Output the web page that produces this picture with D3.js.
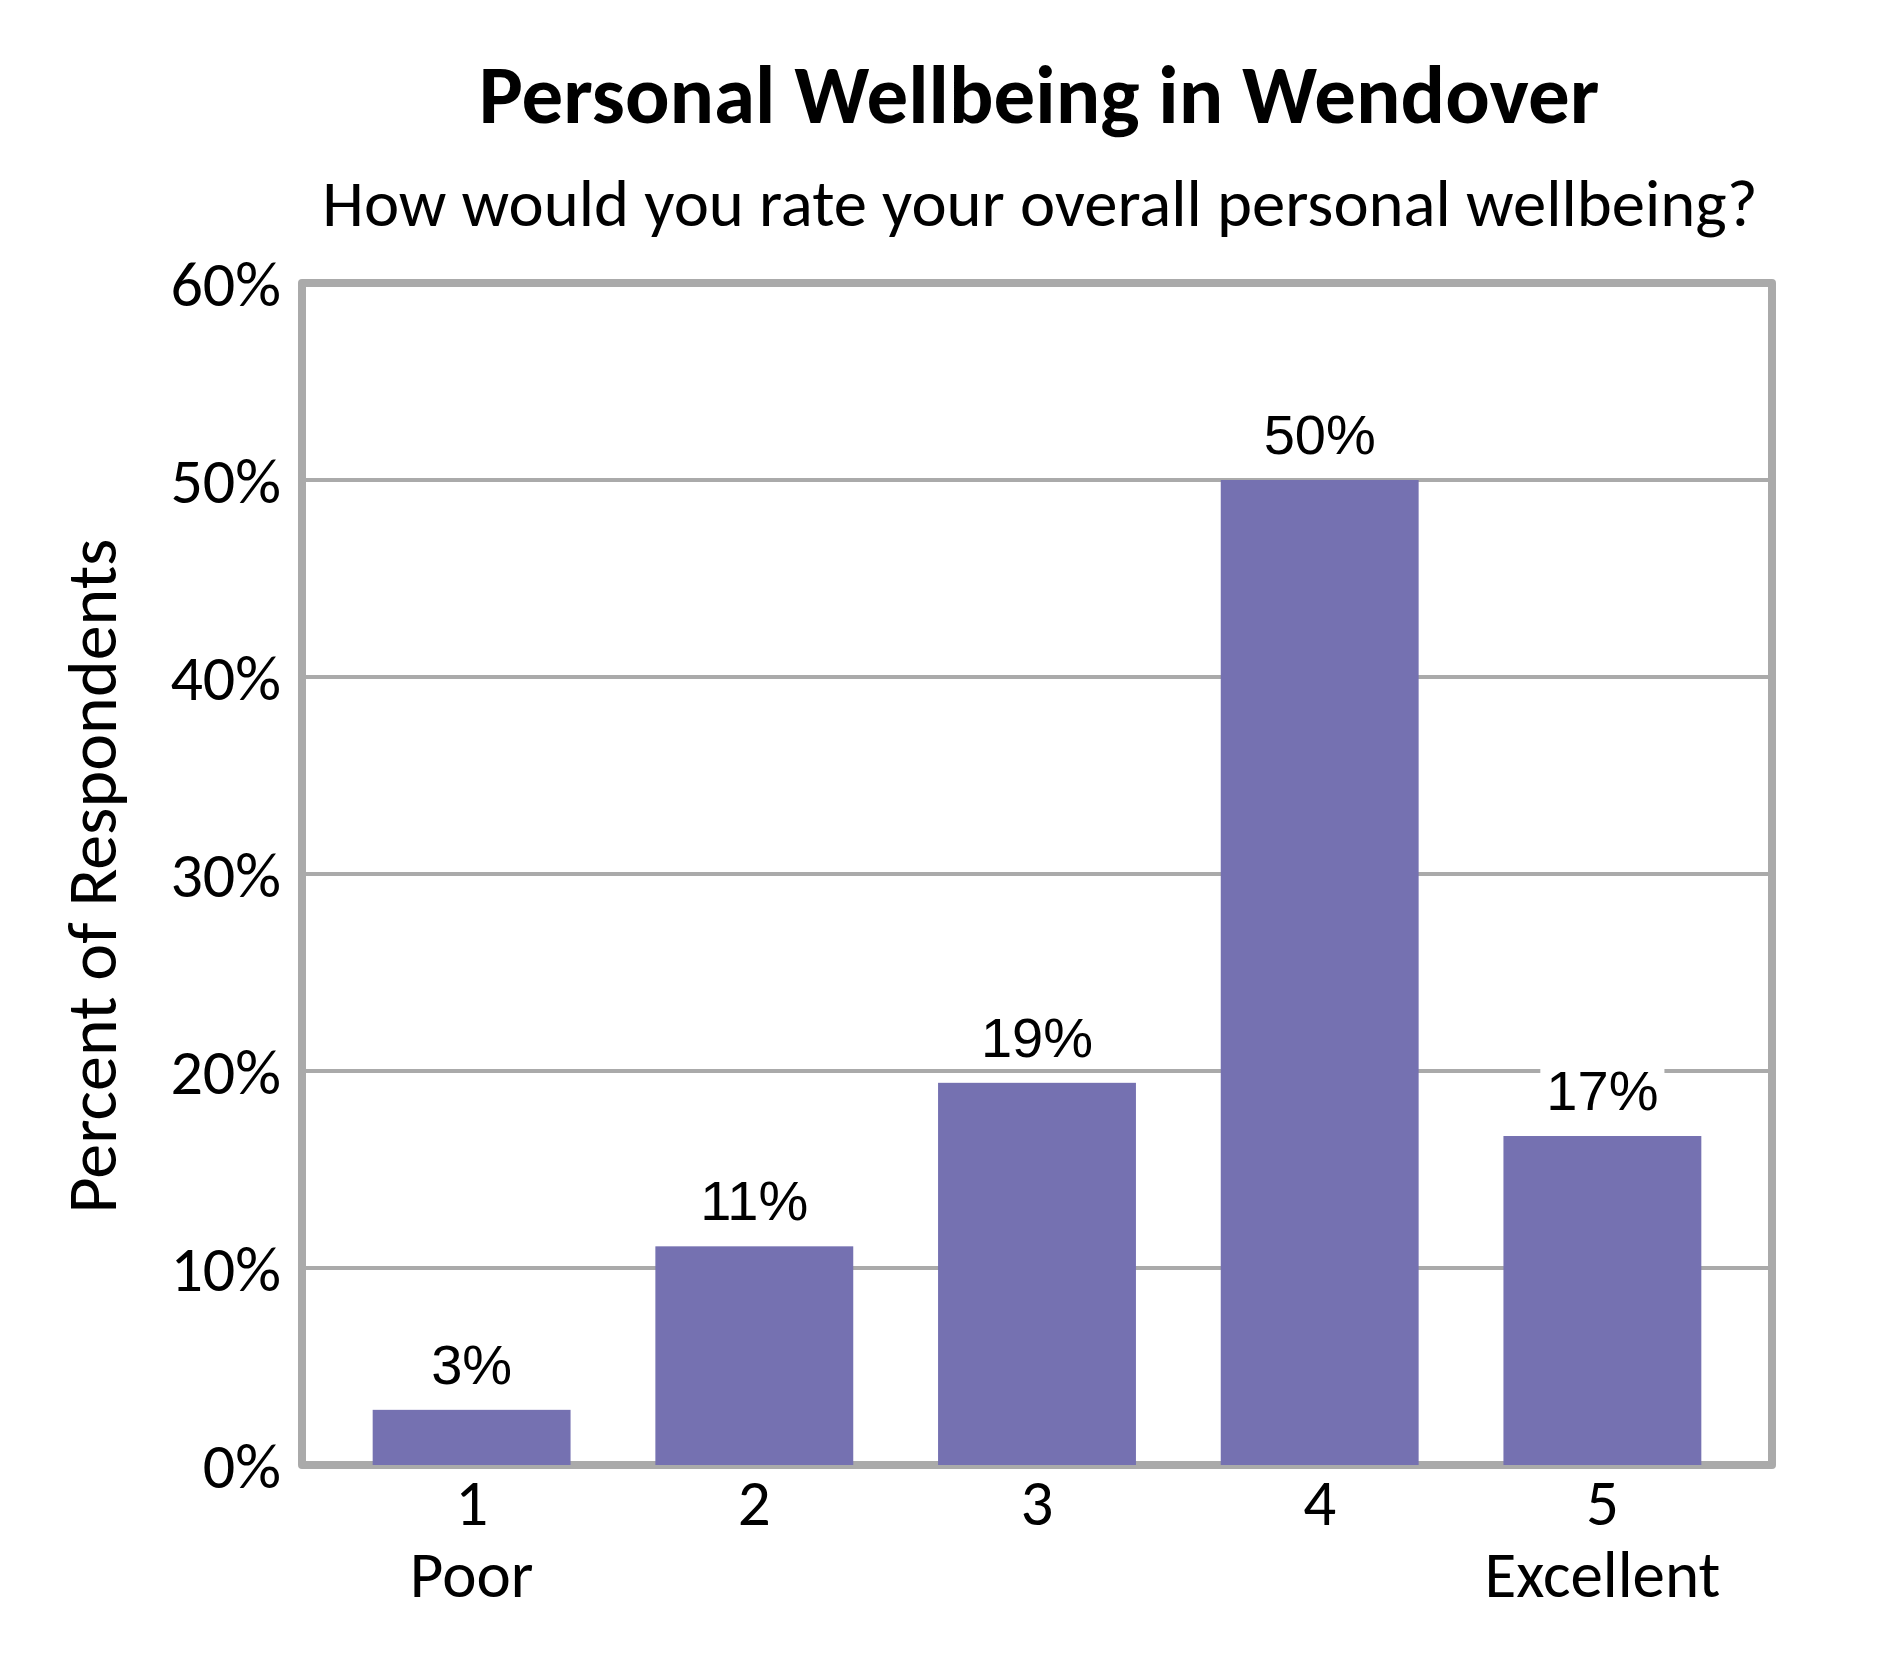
<!DOCTYPE html>
<html>
<head>
<meta charset="utf-8">
<script src="https://cdn.jsdelivr.net/npm/d3@7"></script>
<style>
  html, body { margin: 0; padding: 0; background: #fff; }
  svg { display: block; }
</style>
</head>
<body>
<svg id="chart"></svg>
<script>
const width = 1890;
const height = 1680;

// chart data
const categories = ["1", "2", "3", "4", "5"];
const subLabels = ["Poor", "", "", "", "Excellent"];
const values = [2.8, 11.1, 19.4, 50.0, 16.7];
const valueLabels = ["3%", "11%", "19%", "50%", "17%"];
const yTicks = [0, 10, 20, 30, 40, 50, 60];

const calibri = "Carlito, Calibri, Lato, sans-serif";
const arial = "Arial, 'Liberation Sans', sans-serif";
const gray = "#aaaaaa";
const barColor = "#7571b1";

const svg = d3.select("#chart")
    .attr("width", width)
    .attr("height", height);

const plot = { left: 302, right: 1772, top: 283, bottom: 1465 };

const x = d3.scaleBand()
    .domain(categories)
    .range([plot.left, plot.right])
    .paddingInner(0.3)
    .paddingOuter(0.25);

const y = d3.scaleLinear()
    .domain([0, 60])
    .range([plot.bottom, plot.top]);

// titles
svg.append("text")
    .attr("x", 1039)
    .attr("y", 123)
    .attr("text-anchor", "middle")
    .attr("font-family", calibri)
    .attr("font-weight", "bold")
    .attr("font-size", 83)
    .text("Personal Wellbeing in Wendover");

svg.append("text")
    .attr("x", 1040)
    .attr("y", 226)
    .attr("text-anchor", "middle")
    .attr("font-family", calibri)
    .attr("font-size", 66.7)
    .text("How would you rate your overall personal wellbeing?");

// gridlines
svg.append("g")
    .selectAll("line")
    .data(yTicks.slice(1, -1))
    .enter()
    .append("line")
    .attr("x1", plot.left)
    .attr("x2", plot.right)
    .attr("y1", d => y(d))
    .attr("y2", d => y(d))
    .attr("stroke", gray)
    .attr("stroke-width", 4);

// frame
svg.append("rect")
    .attr("x", plot.left)
    .attr("y", plot.top)
    .attr("width", plot.right - plot.left)
    .attr("height", plot.bottom - plot.top)
    .attr("fill", "none")
    .attr("stroke", gray)
    .attr("stroke-width", 8)
    .attr("stroke-linejoin", "round");

// bars
svg.append("g")
    .selectAll("rect")
    .data(values)
    .enter()
    .append("rect")
    .attr("x", (d, i) => x(categories[i]))
    .attr("y", d => y(d))
    .attr("width", x.bandwidth())
    .attr("height", d => y(0) - y(d))
    .attr("fill", barColor);

// data labels with white boxes
const labels = svg.append("g")
    .selectAll("g")
    .data(values)
    .enter()
    .append("g")
    .attr("transform", (d, i) =>
        `translate(${x(categories[i]) + x.bandwidth() / 2},${y(d) - 26})`);

labels.append("rect")
    .attr("fill", "#fff");

labels.append("text")
    .attr("text-anchor", "middle")
    .attr("font-family", arial)
    .attr("font-size", 56)
    .attr("fill", "#000")
    .text((d, i) => valueLabels[i]);

labels.each(function() {
    const g = d3.select(this);
    const w = g.select("text").node().getComputedTextLength();
    g.select("rect")
        .attr("x", -w / 2 - 6)
        .attr("y", -46)
        .attr("width", w + 12)
        .attr("height", 56);
});

// y axis labels
svg.append("g")
    .selectAll("text")
    .data(yTicks)
    .enter()
    .append("text")
    .attr("x", 281)
    .attr("y", d => y(d) + 23)
    .attr("text-anchor", "end")
    .attr("font-family", calibri)
    .attr("font-size", 64)
    .text(d => d + "%");

// x axis labels
const xl = svg.append("g")
    .selectAll("text")
    .data(categories)
    .enter()
    .append("text")
    .attr("text-anchor", "middle")
    .attr("font-family", calibri)
    .attr("font-size", 65);

xl.append("tspan")
    .attr("x", d => x(d) + x.bandwidth() / 2)
    .attr("y", 1525)
    .text(d => d);

xl.append("tspan")
    .attr("x", d => x(d) + x.bandwidth() / 2)
    .attr("y", 1597)
    .text((d, i) => subLabels[i]);

// y axis title
svg.append("text")
    .attr("transform", "translate(116,876) rotate(-90)")
    .attr("text-anchor", "middle")
    .attr("font-family", calibri)
    .attr("font-size", 70)
    .text("Percent of Respondents");
</script>
</body>
</html>
